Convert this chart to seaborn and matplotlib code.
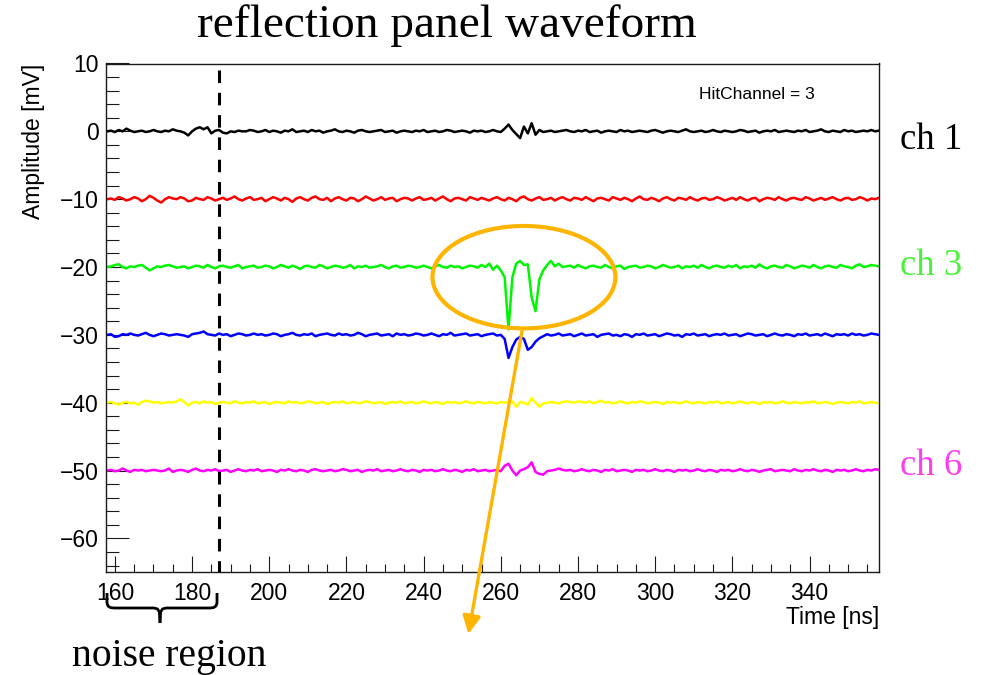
import numpy as np
import pandas as pd
import matplotlib
matplotlib.use("Agg")
import matplotlib.pyplot as plt
import seaborn as sns
from matplotlib.patches import Ellipse
from matplotlib.lines import Line2D
from matplotlib.ticker import MultipleLocator

# ---------------------------------------------------------------- data
# digitizer samples, 1 ns apart
time_ns = np.arange(158.0, 359.0, 1.0)

channel_names = ["ch 1", "ch 2", "ch 3", "ch 4", "ch 5", "ch 6"]
channel_offsets = [0, -10, -20, -30, -40, -50]      # vertical stacking [mV]
channel_colors = ["#000000", "#ff0000", "#00f500", "#0000ff", "#ffff00", "#ff00ff"]

# baseline-subtracted amplitudes [mV], t = 158 ... 358 ns
ch1 = [0.0, 0.1, -0.1, 0.2, 0.0, 0.4, 0.1, -0.1, 0.0, 0.1, -0.1, 0.0, 0.2, 0.0, -0.1, 0.1, 0.0, 0.3, 0.1, 0.0,
       -0.2, -0.6, 0.0, 0.4, 0.6, 0.3, 0.6, -0.3, 0.1, 0.2, -0.2, -0.3, 0.0, -0.1, 0.1, 0.0, 0.0, 0.2, 0.1, -0.1,
       0.0, 0.2, -0.1, 0.1, 0.0, -0.2, 0.1, 0.0, 0.3, -0.1, 0.0, 0.1, -0.1, 0.2, 0.0, 0.1, -0.2, 0.0, 0.1, 0.3,
       0.0, -0.1, 0.1, 0.0, -0.2, 0.1, 0.2, 0.0, -0.1, 0.0, 0.1, 0.2, -0.1, 0.0, 0.1, -0.2, 0.0, 0.1, 0.0, -0.1,
       0.1, 0.0, 0.2, -0.1, 0.0, 0.1, -0.1, 0.0, 0.2, 0.1, -0.1, 0.0, 0.1, 0.0, -0.2, 0.1, 0.0, 0.1, -0.1, 0.0,
       0.2, 0.0, -0.1, 0.4, 1.0, 0.2, -0.4, -1.0, 0.7, -0.3, 1.2, -0.5, 0.2, -0.1, 0.0, 0.1, -0.1, 0.0, 0.1, 0.2,
       0.0, -0.1, 0.1, 0.0, 0.2, -0.1, 0.0, 0.1, -0.2, 0.0, 0.1, 0.0, -0.1, 0.2, 0.0, 0.1, -0.1, 0.0, 0.1, 0.0,
       -0.1, 0.1, 0.2, 0.0, -0.2, 0.0, 0.1, 0.0, -0.1, 0.1, 0.3, 0.0, -0.1, 0.0, 0.1, -0.1, 0.0, 0.2, 0.0, -0.1,
       0.1, 0.0, -0.1, 0.0, 0.2, 0.1, -0.1, 0.0, 0.1, -0.2, 0.0, 0.1, 0.0, 0.2, -0.1, 0.0, 0.1, 0.0, -0.1, 0.1,
       0.0, 0.2, -0.1, 0.0, 0.1, 0.3, 0.0, -0.1, 0.1, 0.0, -0.1, 0.2, 0.0, 0.1, -0.1, 0.0, 0.1, 0.0, 0.2, 0.0, 0.1]

ch2 = [0.0, 0.1, -0.1, 0.3, 0.1, -0.2, 0.0, 0.3, 0.1, -0.3, 0.0, 0.5, 0.2, -0.2, -0.5, 0.0, 0.3, 0.1, 0.0, 0.3,
       0.1, -0.3, -0.2, 0.2, 0.0, -0.1, 0.3, 0.1, -0.2, 0.0, 0.2, -0.1, 0.1, 0.4, 0.0, -0.2, 0.1, 0.3, -0.1, 0.0,
       0.2, -0.3, 0.0, 0.3, 0.1, -0.2, 0.2, 0.0, -0.4, 0.1, 0.3, 0.0, -0.2, 0.2, 0.4, 0.0, -0.1, 0.2, -0.3, 0.1,
       0.3, 0.0, -0.2, 0.2, 0.1, -0.3, 0.0, 0.4, 0.1, -0.2, 0.0, 0.3, -0.1, 0.1, 0.2, -0.3, 0.0, 0.2, 0.1, -0.2,
       0.1, 0.3, -0.1, 0.0, 0.2, -0.2, 0.1, 0.4, 0.0, -0.3, 0.1, 0.2, 0.0, -0.2, 0.3, 0.1, -0.1, 0.2, 0.0, -0.2,
       0.1, 0.3, 0.0, -0.2, 0.2, 0.0, -0.3, 0.2, 0.4, 0.0, -0.2, 0.1, 0.3, -0.1, 0.0, 0.2, -0.2, 0.1, 0.3, 0.0,
       -0.2, 0.2, 0.1, -0.1, 0.3, 0.0, -0.3, 0.1, 0.2, 0.0, -0.2, 0.3, 0.1, -0.1, 0.2, 0.0, -0.3, 0.1, 0.4, 0.0,
       -0.1, 0.2, 0.0, -0.3, 0.1, 0.3, 0.0, -0.2, 0.2, 0.1, -0.1, 0.3, 0.0, -0.2, 0.1, 0.2, -0.1, 0.0, 0.3, 0.1,
       -0.2, 0.0, 0.2, -0.1, 0.3, 0.0, -0.2, 0.1, 0.2, -0.3, 0.0, 0.2, 0.1, -0.1, 0.3, 0.0, -0.2, 0.1, 0.2, 0.0,
       -0.1, 0.3, 0.1, -0.2, 0.0, 0.2, -0.1, 0.1, 0.3, 0.0, -0.2, 0.1, 0.2, -0.1, 0.0, 0.3, 0.1, -0.2, 0.1, 0.0, 0.2]

ch3 = [0.0, 0.1, 0.3, 0.4, 0.0, -0.2, 0.1, 0.0, 0.2, 0.3, -0.1, -0.5, -0.2, 0.1, 0.0, 0.2, 0.3, 0.1, -0.1, 0.0,
       0.1, -0.2, 0.0, 0.2, 0.1, -0.1, 0.3, 0.0, -0.2, 0.1, 0.2, 0.0, -0.1, 0.1, 0.3, -0.2, 0.0, 0.1, 0.2, -0.1,
       0.0, 0.2, 0.1, -0.2, 0.0, 0.3, 0.1, -0.1, 0.2, 0.0, -0.3, 0.1, 0.2, 0.0, -0.1, 0.3, 0.1, -0.2, 0.0, 0.2,
       0.1, -0.1, 0.0, 0.3, -0.2, 0.1, 0.0, 0.2, -0.1, 0.0, 0.1, 0.3, 0.0, -0.2, 0.1, 0.2, -0.1, 0.0, 0.2, 0.1,
       -0.1, 0.0, 0.2, 0.0, -0.2, 0.1, 0.3, 0.0, -0.1, 0.2, 0.0, 0.1, -0.2, 0.0, 0.2, 0.1, -0.1, 0.3, 0.0, 0.5,
       -0.4, 0.2, -0.5, -1.5, -9.2, -1.5, 0.5, 0.9, 0.3, 0.4, -4.5, -6.5, -1.8, -0.5, 0.3, 0.9, 0.1, 0.5, 0.0, 0.1,
       0.2, -0.1, 0.3, 0.0, -0.2, 0.1, 0.2, 0.0, -0.1, 0.3, 0.0, -0.2, 0.1, 0.2, -0.3, 0.0, 0.1, 0.2, -0.1, 0.0,
       0.2, 0.1, -0.2, 0.0, 0.3, 0.1, -0.1, 0.0, 0.2, -0.2, 0.1, 0.0, 0.2, -0.1, 0.3, 0.0, -0.2, 0.1, 0.2, 0.0,
       -0.1, 0.2, 0.0, 0.3, -0.2, 0.1, 0.0, 0.2, -0.1, 0.4, 0.0, -0.2, 0.1, 0.2, 0.0, -0.1, 0.3, 0.1, -0.2, 0.0,
       0.2, 0.1, -0.1, 0.3, 0.0, -0.2, 0.1, 0.2, 0.0, -0.1, 0.3, 0.1, 0.0, -0.2, 0.2, 0.4, 0.0, 0.1, 0.3, 0.2, 0.1]

ch4 = [0.0, 0.1, -0.3, -0.2, 0.1, 0.0, 0.2, 0.0, -0.1, 0.1, 0.3, 0.0, -0.2, 0.0, 0.2, 0.1, -0.1, 0.0, 0.1, 0.0,
       -0.1, -0.3, 0.1, 0.2, 0.3, 0.5, 0.1, 0.0, -0.1, 0.2, 0.0, 0.1, -0.2, 0.0, 0.2, 0.1, -0.1, 0.0, 0.2, 0.0,
       0.1, -0.1, 0.0, 0.2, 0.1, -0.2, 0.0, 0.1, 0.3, 0.0, -0.1, 0.1, 0.0, 0.2, -0.2, 0.0, 0.1, 0.2, 0.0, -0.1,
       0.2, 0.0, 0.1, -0.1, 0.0, 0.3, 0.1, -0.2, 0.0, 0.1, 0.2, -0.1, 0.0, 0.1, -0.2, 0.2, 0.0, 0.1, -0.1, 0.0,
       0.2, 0.1, -0.1, 0.0, 0.2, 0.0, -0.2, 0.1, 0.0, 0.3, -0.1, 0.0, 0.1, 0.2, -0.1, 0.0, 0.1, -0.2, 0.0, 0.1,
       0.2, -0.1, 0.0, -0.6, -3.4, -1.8, -0.7, -0.3, -0.6, -2.2, -1.8, -1.0, -0.5, -0.2, 0.1, -0.1, 0.0, 0.2, -0.1, 0.0,
       0.1, -0.2, 0.0, 0.2, -0.1, 0.0, 0.1, -0.3, 0.0, 0.1, 0.2, -0.1, 0.0, -0.2, 0.1, 0.0, -0.3, 0.1, 0.0, 0.2,
       -0.1, 0.0, 0.1, -0.2, 0.0, 0.2, 0.1, -0.1, 0.0, -0.3, 0.1, 0.0, 0.2, -0.1, 0.0, 0.1, -0.2, 0.0, 0.1, 0.0,
       0.2, -0.1, 0.0, 0.1, -0.2, 0.0, 0.2, 0.1, -0.1, 0.0, 0.1, -0.2, 0.0, 0.2, 0.0, -0.1, 0.1, 0.0, -0.2, 0.1,
       0.0, 0.2, -0.1, 0.0, 0.1, -0.1, 0.2, 0.0, -0.2, 0.1, 0.0, 0.1, -0.1, 0.2, 0.0, 0.1, -0.1, 0.0, 0.2, 0.1, 0.0]

ch5 = [0.0, 0.1, -0.1, -0.3, 0.0, 0.1, -0.1, 0.0, -0.3, 0.1, 0.3, 0.2, 0.0, 0.1, -0.1, 0.0, 0.1, 0.0, 0.2, 0.5,
       0.1, -0.4, 0.0, 0.1, -0.1, 0.2, 0.0, 0.1, -0.2, 0.0, 0.1, 0.0, -0.1, 0.2, 0.0, -0.1, 0.1, 0.0, 0.2, -0.1,
       0.0, 0.1, -0.2, 0.0, 0.1, 0.0, -0.1, 0.2, 0.0, 0.1, -0.1, 0.0, 0.2, 0.1, -0.1, 0.0, 0.1, -0.2, 0.0, 0.1,
       0.0, 0.2, -0.1, 0.0, 0.1, -0.1, 0.0, 0.2, 0.1, -0.1, 0.0, 0.1, -0.2, 0.0, 0.1, 0.0, 0.2, -0.1, 0.0, 0.1,
       -0.1, 0.0, 0.2, 0.0, -0.1, 0.1, 0.0, -0.2, 0.1, 0.0, 0.1, -0.1, 0.0, 0.2, 0.0, -0.1, 0.1, 0.0, -0.1, 0.1,
       0.0, -0.1, 0.1, 0.0, 0.1, 0.2, -0.6, 0.1, 0.0, -0.3, 0.7, 0.0, -0.6, -0.1, 0.0, 0.1, 0.0, -0.1, 0.1, 0.2,
       0.1, 0.0, 0.2, 0.1, 0.0, 0.2, -0.1, 0.1, 0.3, 0.0, 0.1, -0.1, 0.0, 0.2, 0.0, -0.1, 0.1, 0.0, 0.2, 0.1,
       -0.1, 0.0, 0.1, 0.0, -0.2, 0.1, 0.0, 0.1, -0.1, 0.0, 0.2, 0.0, -0.1, 0.1, 0.0, -0.1, 0.1, 0.0, 0.2, -0.1,
       0.0, 0.1, -0.1, 0.0, 0.2, 0.0, -0.1, 0.1, 0.0, -0.2, 0.1, 0.0, 0.1, -0.1, 0.0, 0.2, 0.0, -0.1, 0.1, 0.0,
       -0.1, 0.1, 0.0, 0.2, -0.1, 0.0, 0.1, 0.0, -0.2, 0.0, 0.1, 0.0, -0.1, 0.1, 0.0, 0.2, -0.1, 0.0, 0.1, 0.0, -0.1]

ch6 = [0.0, 0.1, -0.1, 0.0, 0.3, 0.0, -0.2, 0.1, 0.0, 0.1, -0.1, 0.0, 0.1, 0.0, -0.1, 0.0, 0.3, -0.2, 0.0, 0.1,
       0.0, -0.2, 0.1, 0.3, 0.0, -0.1, 0.1, 0.0, 0.2, -0.1, 0.0, 0.1, -0.2, 0.0, 0.2, 0.0, -0.1, 0.1, 0.0, 0.2,
       -0.1, 0.0, 0.1, 0.0, -0.2, 0.1, 0.0, 0.2, 0.0, -0.1, 0.1, 0.0, -0.2, 0.1, 0.2, 0.0, -0.1, 0.0, 0.1, -0.1,
       0.0, 0.2, 0.1, -0.1, 0.0, 0.1, -0.2, 0.0, 0.1, 0.0, 0.2, -0.1, 0.0, 0.1, -0.1, 0.0, 0.2, 0.0, -0.1, 0.1,
       0.0, -0.2, 0.1, 0.0, 0.1, -0.1, 0.0, 0.2, 0.0, -0.1, 0.1, 0.0, -0.2, 0.1, 0.0, 0.2, -0.1, 0.0, 0.1, -0.1,
       0.0, 0.1, -0.1, 0.7, 1.0, 0.0, -0.7, 0.0, 0.2, 0.5, 1.2, -0.2, -0.5, -0.6, -0.1, 0.0, 0.1, 0.3, 0.1, 0.0,
       0.1, -0.1, 0.0, 0.2, 0.0, -0.1, 0.1, 0.0, -0.2, 0.1, 0.0, 0.2, -0.1, 0.0, 0.1, 0.0, -0.2, 0.1, 0.0, 0.1,
       -0.1, 0.0, 0.2, 0.0, -0.1, 0.1, 0.0, -0.2, 0.1, 0.0, 0.1, -0.1, 0.0, 0.2, 0.0, -0.1, 0.1, 0.0, -0.2, 0.1,
       0.0, 0.1, -0.1, 0.0, 0.2, 0.0, -0.1, 0.1, 0.0, -0.2, 0.0, 0.1, 0.2, -0.1, 0.0, 0.1, 0.0, -0.1, 0.2, 0.0,
       -0.1, 0.1, 0.0, 0.2, 0.0, -0.1, 0.1, 0.0, -0.2, 0.1, 0.0, 0.1, -0.1, 0.0, 0.2, 0.0, -0.1, 0.1, 0.0, 0.2, 0.1]

channel_values = [ch1, ch2, ch3, ch4, ch5, ch6]

# labelled channels on the right-hand side
side_labels = ["ch 1", "ch 3", "ch 6"]
side_label_colors = ["#000000", "#4cf23a", "#ff3cf0"]
side_label_baseline_px = [149, 275, 475]

noise_cut_ns = 186.9          # end of the pedestal (noise) window
hit_channel = 3

# ---------------------------------------------------------------- figure
W, H = 989, 675
sns.set_theme(style="ticks")
plt.rcParams["font.family"] = ["Liberation Sans", "DejaVu Sans"]
plt.rcParams["axes.unicode_minus"] = True
plt.rcParams["text.color"] = "black"
plt.rcParams["axes.labelcolor"] = "black"
serif = ["Liberation Serif", "DejaVu Serif"]

fig = plt.figure(figsize=(W / 100, H / 100), dpi=100)
fig.patch.set_facecolor("white")
ax_l, ax_r, ax_t, ax_b = 106, 879, 63.5, 572.3
ax = fig.add_axes([ax_l / W, 1 - ax_b / H, (ax_r - ax_l) / W, (ax_b - ax_t) / H])
ax.set_facecolor("white")

frames = []
for name, off, vals in zip(channel_names, channel_offsets, channel_values):
    frames.append(pd.DataFrame({
        "Time [ns]": time_ns,
        "Amplitude [mV]": np.asarray(vals, dtype=float) + off,
        "channel": name,
    }))
waveforms = pd.concat(frames, ignore_index=True)

sns.lineplot(data=waveforms, x="Time [ns]", y="Amplitude [mV]", hue="channel",
             palette=dict(zip(channel_names, channel_colors)),
             estimator=None, sort=False, legend=False, linewidth=1.8, ax=ax)

ax.set_xlim(157.7, 358.0)
ax.set_ylim(-65, 10)

# pedestal window boundary
ax.plot([noise_cut_ns, noise_cut_ns], [9.0, -65], color="black", lw=2.2,
        linestyle=(0, (4.1, 3.2)), zorder=4)

# ROOT-like frame and ticks
for s in ax.spines.values():
    s.set_linewidth(1.0)
    s.set_color("#1a1a1a")
ax.xaxis.set_major_locator(MultipleLocator(20))
ax.xaxis.set_minor_locator(MultipleLocator(5))
ax.yaxis.set_major_locator(MultipleLocator(10))
ax.yaxis.set_minor_locator(MultipleLocator(2))
ax.tick_params(which="both", direction="in", top=False, right=False,
               width=0.8, color="#1a1a1a", labelsize=16.5, labelcolor="black")
ax.tick_params(axis="x", which="major", length=11.3, pad=7)
ax.tick_params(axis="x", which="minor", length=6.0)
ax.tick_params(axis="y", which="major", length=16.5, pad=5)
ax.tick_params(axis="y", which="minor", length=9.0)

ax.set_xlabel("Time [ns]", fontsize=16.5, loc="right", color="black")
ax.xaxis.set_label_coords(1.0, -(606 - ax_b) / (ax_b - ax_t))
ax.set_ylabel("Amplitude [mV]", fontsize=16.5, loc="top", color="black")
ax.yaxis.set_label_coords(-(ax_l - 45) / (ax_r - ax_l), 1.0)

# hit region marker and pointer
orange = "#ffb400"
ax.add_patch(Ellipse((266.0, -21.5), 47.4, 15.1, fill=False, ec=orange, lw=3.0, zorder=6))
ax.annotate("", xy=(251.6, -74.1), xytext=(265.6, -29.1),
            arrowprops=dict(arrowstyle="-|>,head_length=0.9,head_width=0.45",
                            color=orange, lw=2.4, shrinkA=0, shrinkB=0),
            annotation_clip=False, zorder=7)

ax.text((756.7 - ax_l) / (ax_r - ax_l), 1 - (99.3 - ax_t) / (ax_b - ax_t),
        f"HitChannel = {hit_channel}", transform=ax.transAxes, fontsize=12.5,
        color="black", ha="center", va="baseline")

# title and side annotations
def px(x, y):
    return x / W, 1 - y / H

fig.text(*px(447, 37), "reflection panel waveform", family=serif, fontsize=34,
         color="black", ha="center", va="baseline")
for txt, col, yb in zip(side_labels, side_label_colors, side_label_baseline_px):
    fig.text(*px(900, yb), txt, family=serif, fontsize=26.5, color=col,
             ha="left", va="baseline")
fig.text(*px(72, 666), "noise region", family=serif, fontsize=28.5,
         color="black", ha="left", va="baseline")

# curly brace under the pedestal window
left_half = [(107, 593), (107, 603), (108, 606), (110.5, 607.6), (114, 608),
             (154, 608), (157.5, 609), (159.4, 612), (160, 623)]
right_half = [(217, 593), (217, 603), (216, 606), (213.5, 607.6), (210, 608),
              (166, 608), (162.5, 609), (160.6, 612), (160, 623)]
for half in (left_half, right_half):
    xs, ys = zip(*[px(x, y) for x, y in half])
    fig.add_artist(Line2D(xs, ys, color="black", lw=2.0, solid_capstyle="butt",
                          solid_joinstyle="round"))

fig.savefig("out.png", dpi=100, facecolor="white")
